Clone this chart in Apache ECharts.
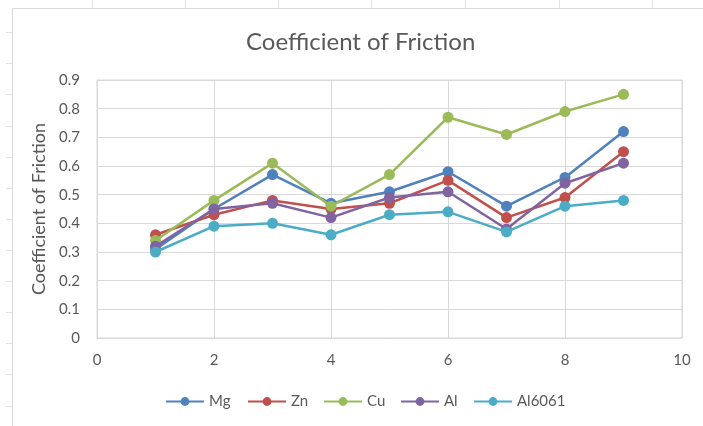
<!DOCTYPE html>
<html>
<head>
<meta charset="utf-8">
<style>
  html, body { margin: 0; padding: 0; background: #ffffff; }
  #chart { width: 703px; height: 426px; }
</style>
<script src="https://cdn.jsdelivr.net/npm/echarts@6/dist/echarts.min.js"></script>
</head>
<body>
<div id="chart"></div>
<script>
// Test runs 1..9 and the friction coefficient measured for each material
const runs = [1, 2, 3, 4, 5, 6, 7, 8, 9];
const mg     = [0.31, 0.45, 0.57, 0.47, 0.51, 0.58, 0.46, 0.56, 0.72];
const zn     = [0.36, 0.43, 0.48, 0.45, 0.47, 0.55, 0.42, 0.49, 0.65];
const cu     = [0.34, 0.48, 0.61, 0.46, 0.57, 0.77, 0.71, 0.79, 0.85];
const al     = [0.32, 0.45, 0.47, 0.42, 0.49, 0.51, 0.38, 0.54, 0.61];
const al6061 = [0.30, 0.39, 0.40, 0.36, 0.43, 0.44, 0.37, 0.46, 0.48];

const seriesNames = ['Mg', 'Zn', 'Cu', 'Al', 'Al6061'];
const seriesData = [mg, zn, cu, al, al6061];
const palette = ['#4F81BD', '#C0504D', '#9BBB59', '#8064A2', '#4BACC6'];

const FONT = 'Lato, "Open Sans", sans-serif';
const TEXT = '#595959';
const GRID = '#d9d9d9';

const chart = echarts.init(document.getElementById('chart'));

// Faint worksheet cell marks around the chart frame
const sheetMarks = [];
[92, 185, 278, 371, 465, 559, 652].forEach(function (x) {
  sheetMarks.push({ type: 'line', shape: { x1: x + 0.5, y1: 0, x2: x + 0.5, y2: 8 },
    style: { stroke: '#e3e3e3', lineWidth: 1 }, silent: true });
});
[32, 63, 94, 126, 157, 188, 219, 250, 281, 312, 343, 374, 406].forEach(function (y) {
  sheetMarks.push({ type: 'line', shape: { x1: 6, y1: y + 0.5, x2: 12, y2: y + 0.5 },
    style: { stroke: '#e3e3e3', lineWidth: 1 }, silent: true });
});
// Chart frame (top and left edges)
sheetMarks.push({ type: 'polyline', shape: { points: [[12.5, 426], [12.5, 8.5], [703, 8.5]] },
  style: { stroke: GRID, lineWidth: 1, fill: null }, silent: true });

// One legend block per series, laid out left to right
const legendLefts = [165, 247, 323, 400, 473];
const legends = seriesNames.map(function (name, i) {
  return {
    data: [name],
    left: legendLefts[i],
    top: 394,
    padding: 0,
    itemWidth: 38,
    itemHeight: 11,
    textStyle: { fontFamily: FONT, fontSize: 15, color: TEXT }
  };
});

chart.setOption({
  animation: false,
  backgroundColor: '#ffffff',
  textStyle: { fontFamily: FONT },
  title: {
    text: 'Coefficient of Friction',
    left: 246,
    top: 30,
    padding: 0,
    textStyle: { fontFamily: FONT, fontSize: 24, fontWeight: 'normal', color: TEXT }
  },
  graphic: sheetMarks,
  legend: legends,
  grid: { left: 97, right: 21, top: 80, bottom: 88, show: true, borderColor: GRID, borderWidth: 1 },
  xAxis: {
    type: 'value',
    min: 0, max: 10, interval: 2,
    axisLine: { show: true, lineStyle: { color: GRID } },
    axisTick: { show: false },
    splitLine: { show: true, lineStyle: { color: GRID, width: 1 } },
    axisLabel: { color: TEXT, fontFamily: FONT, fontSize: 15, margin: 15 }
  },
  yAxis: {
    type: 'value',
    min: 0, max: 0.9, interval: 0.1,
    name: 'Coefficient of Friction',
    nameLocation: 'middle',
    nameGap: 47,
    nameTextStyle: { color: TEXT, fontFamily: FONT, fontSize: 18 },
    axisLine: { show: true, lineStyle: { color: GRID } },
    axisTick: { show: false },
    splitLine: { show: true, lineStyle: { color: GRID, width: 1 } },
    axisLabel: {
      color: TEXT, fontFamily: FONT, fontSize: 15, margin: 17,
      formatter: function (v) { return String(Math.round(v * 10) / 10); }
    }
  },
  series: seriesNames.map(function (name, i) {
    return {
      name: name,
      type: 'line',
      data: runs.map(function (r, j) { return [r, seriesData[i][j]]; }),
      color: palette[i],
      symbol: 'circle',
      symbolSize: 11,
      lineStyle: { width: 2.5, color: palette[i] },
      itemStyle: { color: palette[i] },
      z: 2 + i
    };
  })
});
</script>
</body>
</html>
